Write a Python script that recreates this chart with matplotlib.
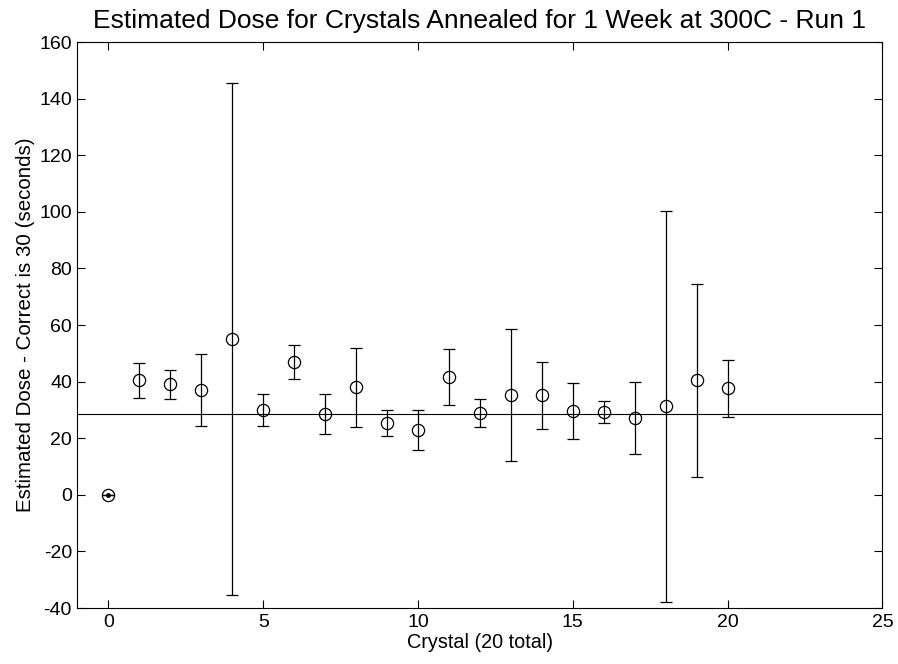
import matplotlib
matplotlib.use("Agg")
import matplotlib.pyplot as plt

plt.rcParams['font.family'] = ['Liberation Sans', 'DejaVu Sans']
plt.rcParams['axes.unicode_minus'] = False

# Crystal index, estimated dose and error half-width (seconds)
crystal = [0, 1, 2, 3, 4, 5, 6, 7, 8, 9, 10, 11, 12, 13, 14, 15, 16, 17, 18, 19, 20]
dose = [0.0, 40.5, 39.0, 37.0, 55.0, 30.0, 47.0, 28.5, 38.0, 25.3, 23.0,
        41.7, 29.0, 35.2, 35.2, 29.5, 29.2, 27.0, 31.3, 40.4, 37.6]
err = [0.0, 6.2, 5.0, 12.8, 90.5, 5.6, 6.1, 7.0, 14.0, 4.6, 7.0,
       9.8, 5.0, 23.4, 11.8, 9.9, 3.9, 12.7, 69.0, 34.0, 10.2]
reference_level = 28.5

xlim = (-1, 25)
ylim = (-40, 160)
xticks = [0, 5, 10, 15, 20, 25]
yticks = [-40, -20, 0, 20, 40, 60, 80, 100, 120, 140, 160]

fig = plt.figure(figsize=(8.98, 6.64), dpi=100)
ax = fig.add_axes([0.0863, 0.0843, 0.8964, 0.8524])

ax.plot(xlim, [reference_level, reference_level], color='black', linewidth=0.8)
ax.errorbar(crystal, dose, yerr=err, fmt='o', mfc='none', mec='black',
            ms=8.8, mew=0.9, ecolor='black', elinewidth=0.9, capsize=4,
            capthick=0.9)

# points with zero spread get a centre dot
zero_x = [c for c, e in zip(crystal, err) if e == 0]
zero_y = [d for d, e in zip(dose, err) if e == 0]
ax.plot(zero_x, zero_y, 'o', color='black', ms=2.5)

ax.set_xlim(*xlim)
ax.set_ylim(*ylim)
ax.set_xticks(xticks)
ax.set_yticks(yticks)
ax.tick_params(direction='in', length=6, width=0.8, labelsize=14,
               top=True, right=True, pad=4)
for s in ax.spines.values():
    s.set_linewidth(0.8)

ax.set_title('Estimated Dose for Crystals Annealed for 1 Week at 300C - Run 1',
             fontsize=19, pad=10)
ax.set_xlabel('Crystal (20 total)', fontsize=14.3, labelpad=2)
ax.set_ylabel('Estimated Dose - Correct is 30 (seconds)', fontsize=14.8, labelpad=3)

fig.savefig('out.png', dpi=100)
